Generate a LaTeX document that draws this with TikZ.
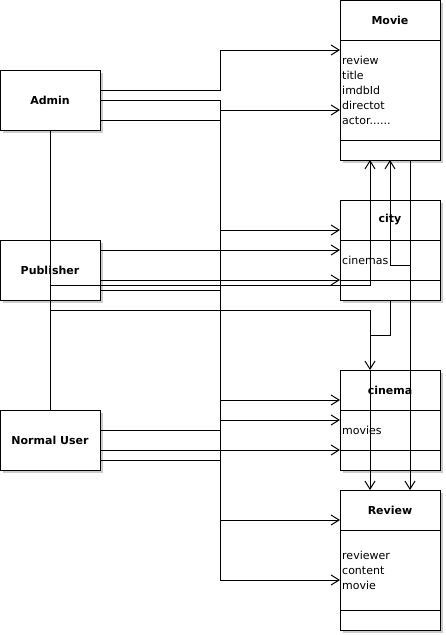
\documentclass[tikz,border=0pt]{standalone}
\usepackage{fontspec}
\setmainfont{DejaVu Sans}
\usetikzlibrary{arrows.meta,shadows}
\begin{document}
\begin{tikzpicture}[x=1pt,y=-1pt,
  every node/.style={font=\fontsize{11}{15}\selectfont},
  sh/.style={drop shadow={shadow xshift=3pt,shadow yshift=-3pt,fill=black!20,opacity=1}},
  actorbox/.style={draw,line width=1pt,fill=white,sh,minimum width=100pt,minimum height=60pt,inner sep=0pt,outer sep=0pt,font=\fontsize{11}{15}\selectfont\bfseries},
  entitybox/.style={draw,line width=1pt,fill=white,sh,minimum width=100pt,inner sep=0pt,outer sep=0pt},
  ttl/.style={font=\fontsize{11}{15}\selectfont\bfseries,inner sep=0pt},
  attrs/.style={align=left,anchor=west,inner sep=0pt},
  conn/.style={line width=1pt},
  arr/.style={conn,-{Straight Barb[length=8pt,width=10pt]}},
]
\useasboundingbox (0,0) rectangle (445,635);

% actors
\node[actorbox] (admin) at (50,100) {Admin};
\node[actorbox] (pub) at (50,270) {Publisher};
\node[actorbox] (nu) at (50,440) {Normal User};

% entities
\node[entitybox,minimum height=160pt] (movie) at (390,80) {};
\node[entitybox,minimum height=100pt] (city) at (390,250) {};
\node[entitybox,minimum height=100pt] (cinema) at (390,420) {};
\node[entitybox,minimum height=140pt] (review) at (390,560) {};

% dividers
\draw[conn] ([yshift=-40pt]movie.north west) -- ([yshift=-40pt]movie.north east);
\draw[conn] ([yshift=20pt]movie.south west) -- ([yshift=20pt]movie.south east);
\draw[conn] ([yshift=-40pt]city.north west) -- ([yshift=-40pt]city.north east);
\draw[conn] ([yshift=20pt]city.south west) -- ([yshift=20pt]city.south east);
\draw[conn] ([yshift=-40pt]cinema.north west) -- ([yshift=-40pt]cinema.north east);
\draw[conn] ([yshift=20pt]cinema.south west) -- ([yshift=20pt]cinema.south east);
\draw[conn] ([yshift=-40pt]review.north west) -- ([yshift=-40pt]review.north east);
\draw[conn] ([yshift=20pt]review.south west) -- ([yshift=20pt]review.south east);

% titles
\node[ttl] (movieT) at (390,20) {Movie};
\node[ttl] (cityT) at (390,220) {city};
\node[ttl] (cinemaT) at (390,390) {cinema};
\node[ttl] (reviewT) at (390,510) {Review};

% attributes
\node[attrs] (movieA) at (342,90) {review\\title\\imdbId\\directot\\actor......};
\node[attrs] (cityA) at (342,260) {cinemas};
\node[attrs] (cinemaA) at (342,430) {movies};
\node[attrs] (reviewA) at (342,570) {reviewer\\content\\movie};

% actor chain
\draw[conn] (admin.south) -- (nu.north);

% admin
\draw[arr] ([yshift=10pt]admin.east) -- (220,90) |- ([yshift=30pt]movie.west);
\draw[arr] (admin.east) -| (220,580) -- ([yshift=-20pt]review.west);
\draw[conn] ([yshift=-20pt]admin.east) -- +(120,0);

% trunk branches
\draw[arr] ([yshift=-30pt]movie.west) ++(-120,0) -- +(120,0);
\draw[arr] ([yshift=20pt]city.west) ++(-120,0) -- +(120,0);
\draw[arr] ([yshift=20pt]cinema.west) ++(-120,0) -- +(120,0);
\draw[arr] (cinema.west) ++(-120,0) -- +(120,0);
\draw[arr] ([yshift=40pt]review.west) ++(-120,0) -- +(120,0);

% publisher
\draw[arr] ([yshift=20pt]pub.east) -- (city.west);
\draw[arr] ([yshift=-10pt]pub.east) -- ([yshift=-30pt]city.west);
\draw[conn] ([yshift=-20pt]pub.east) -- +(120,0);
\draw[arr] ([yshift=-15pt]pub.center) -| ([xshift=-20pt]movie.south);
\draw[arr] ([yshift=-40pt]pub.center) -| ([xshift=-20pt]cinema.north);

% normal user
\draw[conn] ([yshift=10pt]nu.east) -- +(120,0);
\draw[conn] ([yshift=-20pt]nu.east) -- +(120,0);
\draw[arr] ([yshift=-10pt]nu.east) -- ([yshift=-30pt]cinema.west);

% entity links
\draw[conn] (city.south) -- ++(0,35) -- ++(-20,0);
\draw[arr] ([xshift=20pt]movie.south) -- ([xshift=20pt]review.north);
\draw[arr] ([xshift=20pt]movie.south) ++(0,105) -- ++(-20,0) -- (movie.south);
\draw[arr] ([xshift=-20pt]cinema.north) -- ([xshift=-20pt]review.north);
\end{tikzpicture}
\end{document}
